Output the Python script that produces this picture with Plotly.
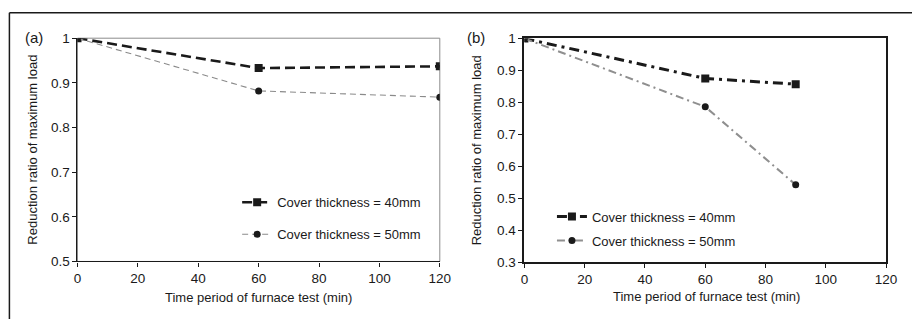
import plotly.graph_objects as go

W, H = 923, 327

# ---- data ----
time_a = [0, 60, 120]
a_40mm = [1.0, 0.933, 0.937]
a_50mm = [1.0, 0.882, 0.868]

time_b = [0, 60, 90]
b_40mm = [1.0, 0.875, 0.857]
b_50mm = [1.0, 0.786, 0.542]

x_ticks = [0, 20, 40, 60, 80, 100, 120]
ya_ticks = [0.5, 0.6, 0.7, 0.8, 0.9, 1.0]
ya_labels = ["0.5", "0.6", "0.7", "0.8", "0.9", "1"]
yb_ticks = [0.3, 0.4, 0.5, 0.6, 0.7, 0.8, 0.9, 1.0]
yb_labels = ["0.3", "0.4", "0.5", "0.6", "0.7", "0.8", "0.9", "1"]

series_names = ["Cover thickness = 40mm", "Cover thickness = 50mm"]
x_title = "Time period of furnace test (min)"
y_title = "Reduction ratio of maximum load"

FONT = "Liberation Sans, Arial, sans-serif"
INK = "#1a1a1a"

def px(x):
    return x / W

def py(y):
    return 1 - y / H

# plot area pixel boxes
A = dict(l=74.7, r=443.0, t=32.7, b=266.7)
B = dict(l=529.0, r=896.7, t=33.0, b=267.3)

fig = go.Figure()

fig.add_trace(go.Scatter(
    x=time_a, y=a_40mm, name=series_names[0], xaxis="x", yaxis="y",
    mode="lines+markers", legend="legend", legendgroup="a1",
    line=dict(color=INK, width=2.6, dash="10px,5px"),
    marker=dict(symbol="square", size=8, color=INK),
))
fig.add_trace(go.Scatter(
    x=time_a, y=a_50mm, name=series_names[1], xaxis="x", yaxis="y",
    mode="lines+markers", legend="legend", legendgroup="a2",
    line=dict(color="#8a8a8a", width=1.1, dash="6px,4px"),
    marker=dict(symbol="circle", size=7, color=INK),
))
fig.add_trace(go.Scatter(
    x=time_b, y=b_40mm, name=series_names[0], xaxis="x2", yaxis="y2",
    mode="lines+markers", legend="legend2", legendgroup="b1",
    line=dict(color=INK, width=3, dash="10px,5px,3px,5px"),
    marker=dict(symbol="square", size=8, color=INK),
))
fig.add_trace(go.Scatter(
    x=time_b, y=b_50mm, name=series_names[1], xaxis="x2", yaxis="y2",
    mode="lines+markers", legend="legend2", legendgroup="b2",
    line=dict(color="#8f8f8f", width=2, dash="8px,4px,2px,4px"),
    marker=dict(symbol="circle", size=7, color=INK),
))

tickfont = dict(family=FONT, size=13.5, color=INK)
common_x = dict(range=[0, 120], tickvals=x_ticks, showgrid=False, zeroline=False,
                ticks="outside", ticklen=4, tickcolor=INK, tickfont=tickfont,
                showline=True, linecolor=INK, fixedrange=True)
common_y = dict(showgrid=False, zeroline=False, ticks="outside", ticklen=4,
                tickcolor=INK, tickfont=tickfont, showline=True, linecolor=INK,
                fixedrange=True)

fig.update_layout(
    width=W, height=H,
    margin=dict(l=0, r=0, t=0, b=0),
    paper_bgcolor="white", plot_bgcolor="white",
    font=dict(family=FONT, color=INK),
    xaxis=dict(domain=[px(A["l"]), px(A["r"])], anchor="y", linewidth=1.2, **common_x),
    yaxis=dict(domain=[py(A["b"]), py(A["t"])], anchor="x", range=[0.5, 1.0],
               tickvals=ya_ticks, ticktext=ya_labels, linewidth=1.2, **common_y),
    xaxis2=dict(domain=[px(B["l"]), px(B["r"])], anchor="y2", linewidth=2,
                mirror=True, **common_x),
    yaxis2=dict(domain=[py(B["b"]), py(B["t"])], anchor="x2", range=[0.3, 1.0],
                tickvals=yb_ticks, ticktext=yb_labels, linewidth=2, mirror=True,
                **common_y),
    legend=dict(x=px(237), y=py(189), xanchor="left", yanchor="top",
                bgcolor="rgba(0,0,0,0)", traceorder="grouped", tracegroupgap=12,
                font=dict(family=FONT, size=13, color=INK)),
    legend2=dict(x=px(557), y=py(204), xanchor="left", yanchor="top",
                 bgcolor="rgba(0,0,0,0)", traceorder="grouped", tracegroupgap=4,
                 font=dict(family=FONT, size=13, color=INK)),
    showlegend=True,
)

# light frame on top/right of panel (a)
fig.add_shape(type="rect", xref="x domain", yref="y domain", x0=0, x1=1, y0=0, y1=1,
              line=dict(color="#8c8c8c", width=1), layer="below")
# outer figure frame (top and left)
fig.add_shape(type="line", xref="paper", yref="paper", x0=px(5.5), x1=1, y0=py(6), y1=py(6),
              line=dict(color=INK, width=1.5))
fig.add_shape(type="line", xref="paper", yref="paper", x0=px(5.5), x1=px(5.5), y0=py(6), y1=0,
              line=dict(color=INK, width=1.5))

ann_font = dict(family=FONT, size=13, color=INK)
def label(text, x, y, angle=0, font=ann_font):
    fig.add_annotation(text=text, xref="paper", yref="paper", x=px(x), y=py(y),
                       xanchor="center", yanchor="middle", textangle=angle,
                       showarrow=False, font=font)

label(x_title, 259, 304)
label(x_title, 714, 303)
label(y_title, 29, 150, -90)
label(y_title, 480, 150, -90)
label("(a)", 31, 32, font=dict(family=FONT, size=15, color=INK))
label("(b)", 480, 32, font=dict(family=FONT, size=15, color=INK))

fig.write_html("out.html", config={"displayModeBar": False})
